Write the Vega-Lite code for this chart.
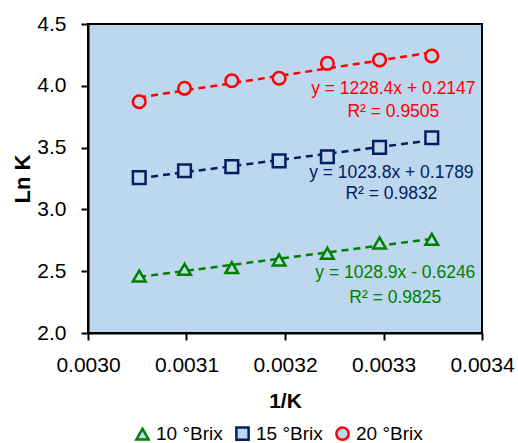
{
  "$schema": "https://vega.github.io/schema/vega-lite/v6.json",
  "width": 394,
  "height": 309,
  "autosize": {"type": "none"},
  "padding": {"left": 88, "top": 24, "right": 36, "bottom": 110},
  "background": "white",
  "config": {
    "view": {"fill": "#BDD7EE", "stroke": "#000000", "strokeWidth": 2},
    "font": "Liberation Sans",
    "axis": {
      "grid": false,
      "domainColor": "#000000",
      "domainWidth": 2,
      "tickColor": "#000000",
      "tickWidth": 2,
      "tickSize": 7,
      "labelColor": "#000000",
      "labelFont": "Liberation Sans",
      "labelFontSize": 21,
      "labelFlush": false,
      "labelOverlap": false,
      "titleColor": "#000000",
      "titleFont": "Liberation Sans",
      "titleFontWeight": "bold"
    },
    "legend": {
      "labelFontSize": 19,
      "labelColor": "#000000",
      "labelFont": "Liberation Sans",
      "symbolSize": 150,
      "symbolStrokeWidth": 2.5,
      "columnPadding": 8,
      "labelOffset": 4
    }
  },
  "datasets": {
    "points": [
      {"series": "10 °Brix", "x": 0.003052, "y": 2.461},
      {"series": "10 °Brix", "x": 0.003098, "y": 2.515},
      {"series": "10 °Brix", "x": 0.003146, "y": 2.529},
      {"series": "10 °Brix", "x": 0.003194, "y": 2.591},
      {"series": "10 °Brix", "x": 0.003243, "y": 2.645},
      {"series": "10 °Brix", "x": 0.003296, "y": 2.728},
      {"series": "10 °Brix", "x": 0.003349, "y": 2.758},
      {"series": "15 °Brix", "x": 0.003052, "y": 3.257},
      {"series": "15 °Brix", "x": 0.003098, "y": 3.313},
      {"series": "15 °Brix", "x": 0.003146, "y": 3.346},
      {"series": "15 °Brix", "x": 0.003194, "y": 3.392},
      {"series": "15 °Brix", "x": 0.003243, "y": 3.426},
      {"series": "15 °Brix", "x": 0.003296, "y": 3.502},
      {"series": "15 °Brix", "x": 0.003349, "y": 3.580},
      {"series": "20 °Brix", "x": 0.003052, "y": 3.871},
      {"series": "20 °Brix", "x": 0.003098, "y": 3.980},
      {"series": "20 °Brix", "x": 0.003146, "y": 4.041},
      {"series": "20 °Brix", "x": 0.003194, "y": 4.061},
      {"series": "20 °Brix", "x": 0.003243, "y": 4.182},
      {"series": "20 °Brix", "x": 0.003296, "y": 4.209},
      {"series": "20 °Brix", "x": 0.003349, "y": 4.241}
    ],
    "notes": [
      {"series": "20 °Brix", "x": 0.003310, "y": 3.974, "label": "y = 1228.4x + 0.2147"},
      {"series": "20 °Brix", "x": 0.003310, "y": 3.790, "label": "R² = 0.9505"},
      {"series": "15 °Brix", "x": 0.003308, "y": 3.292, "label": "y = 1023.8x + 0.1789"},
      {"series": "15 °Brix", "x": 0.003308, "y": 3.125, "label": "R² = 0.9832"},
      {"series": "10 °Brix", "x": 0.003312, "y": 2.489, "label": "y = 1028.9x - 0.6246"},
      {"series": "10 °Brix", "x": 0.003312, "y": 2.283, "label": "R² = 0.9825"}
    ]
  },
  "layer": [
    {
      "data": {"name": "points"},
      "transform": [
        {"regression": "y", "on": "x", "groupby": ["series"], "method": "linear"}
      ],
      "mark": {"type": "line", "strokeWidth": 2.5, "strokeDash": [7, 5]},
      "encoding": {
        "x": {"field": "x", "type": "quantitative"},
        "y": {"field": "y", "type": "quantitative"},
        "detail": {"field": "series"},
        "stroke": {
          "field": "series",
          "type": "nominal",
          "scale": {"domain": ["10 °Brix", "15 °Brix", "20 °Brix"], "range": ["#008000", "#002060", "#FF0000"]}
        }
      }
    },
    {
      "data": {"name": "points"},
      "mark": {"type": "point", "filled": true, "strokeWidth": 2.5, "size": 160, "opacity": 1},
      "encoding": {
        "x": {
          "field": "x",
          "type": "quantitative",
          "scale": {"domain": [0.003, 0.0034], "nice": false, "zero": false},
          "axis": {
            "values": [0.003, 0.0031, 0.0032, 0.0033, 0.0034],
            "format": ".4f",
            "title": "1/K",
            "titleFontSize": 21,
            "labelPadding": 14,
            "titlePadding": 15
          }
        },
        "y": {
          "field": "y",
          "type": "quantitative",
          "scale": {"domain": [2, 4.5], "nice": false, "zero": false},
          "axis": {
            "values": [2, 2.5, 3, 3.5, 4, 4.5],
            "format": ".1f",
            "title": "Ln K",
            "titleFontSize": 22,
            "labelPadding": 15,
            "titlePadding": 2
          }
        },
        "fill": {
          "field": "series",
          "type": "nominal",
          "scale": {"domain": ["10 °Brix", "15 °Brix", "20 °Brix"], "range": ["#BDD7EE", "#BDD7EE", "#BDD7EE"]},
          "legend": {
            "orient": "none",
            "direction": "horizontal",
            "legendX": 45,
            "legendY": 400,
            "title": null
          }
        },
        "stroke": {
          "field": "series",
          "type": "nominal",
          "scale": {"domain": ["10 °Brix", "15 °Brix", "20 °Brix"], "range": ["#008000", "#002060", "#FF0000"]},
          "legend": {
            "orient": "none",
            "direction": "horizontal",
            "legendX": 45,
            "legendY": 400,
            "title": null
          }
        },
        "shape": {
          "field": "series",
          "type": "nominal",
          "scale": {"domain": ["10 °Brix", "15 °Brix", "20 °Brix"], "range": ["triangle-up", "square", "circle"]},
          "legend": {
            "orient": "none",
            "direction": "horizontal",
            "legendX": 45,
            "legendY": 400,
            "title": null
          }
        }
      }
    },
    {
      "data": {"name": "notes"},
      "mark": {"type": "text", "fontSize": 17.5, "font": "Liberation Sans", "align": "center", "baseline": "middle"},
      "encoding": {
        "x": {"field": "x", "type": "quantitative"},
        "y": {"field": "y", "type": "quantitative"},
        "text": {"field": "label"},
        "color": {
          "field": "series",
          "type": "nominal",
          "scale": {"domain": ["10 °Brix", "15 °Brix", "20 °Brix"], "range": ["#008000", "#002060", "#FF0000"]},
          "legend": null
        }
      }
    }
  ]
}
